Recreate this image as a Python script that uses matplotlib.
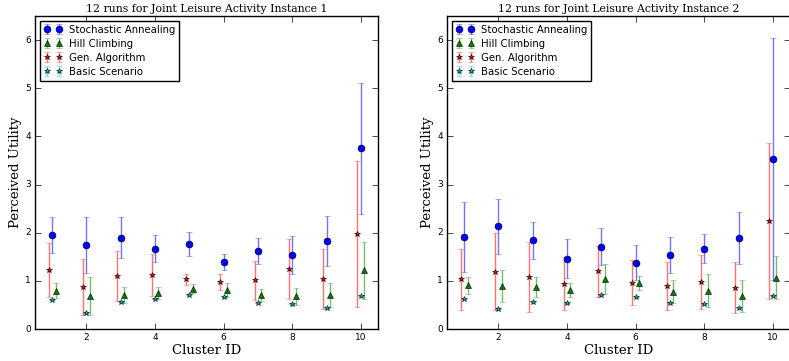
import matplotlib
matplotlib.use("Agg")
import matplotlib.pyplot as plt
import numpy as np

plt.style.use("classic")

clusters = np.arange(1, 11)

# Instance 1: means and error half-widths per algorithm
sa1 = [1.95, 1.74, 1.90, 1.67, 1.76, 1.40, 1.62, 1.535, 1.825, 3.755]
sa1_err = [0.38, 0.58, 0.43, 0.28, 0.25, 0.165, 0.28, 0.39, 0.52, 1.36]
hc1 = [0.795, 0.685, 0.71, 0.75, 0.84, 0.81, 0.705, 0.68, 0.71, 1.22]
hc1_err = [0.155, 0.40, 0.16, 0.13, 0.10, 0.15, 0.12, 0.18, 0.25, 0.59]
ga1 = [1.22, 0.88, 1.11, 1.12, 1.03, 0.975, 1.01, 1.245, 1.037, 1.97]
ga1_err = [0.56, 0.58, 0.52, 0.44, 0.12, 0.17, 0.40, 0.615, 0.62, 1.51]
bs1 = [0.61, 0.34, 0.56, 0.63, 0.71, 0.66, 0.55, 0.52, 0.43, 0.69]

# Instance 2
sa2 = [1.91, 2.13, 1.84, 1.46, 1.71, 1.38, 1.535, 1.67, 1.89, 3.53]
sa2_err = [0.73, 0.58, 0.39, 0.41, 0.39, 0.36, 0.38, 0.30, 0.53, 2.52]
hc2 = [0.91, 0.89, 0.88, 0.81, 1.04, 0.96, 0.775, 0.795, 0.69, 1.065]
hc2_err = [0.18, 0.33, 0.21, 0.145, 0.31, 0.14, 0.24, 0.34, 0.33, 0.45]
ga2 = [1.03, 1.19, 1.08, 0.94, 1.20, 0.96, 0.90, 0.975, 0.86, 2.235]
ga2_err = [0.64, 0.80, 0.72, 0.55, 0.53, 0.47, 0.50, 0.555, 0.525, 1.62]
bs2 = [0.615, 0.41, 0.56, 0.55, 0.71, 0.66, 0.55, 0.51, 0.43, 0.69]

instances = [
    ("12 runs for Joint Leisure Activity Instance 1", sa1, sa1_err, hc1, hc1_err, ga1, ga1_err, bs1),
    ("12 runs for Joint Leisure Activity Instance 2", sa2, sa2_err, hc2, hc2_err, ga2, ga2_err, bs2),
]

fig = plt.figure(figsize=(7.89, 3.61), dpi=100, facecolor="white")
lefts = [35 / 789, 447 / 789]
W, H = 343 / 789, 313 / 361
B = 32 / 361

for left, (title, sa, sa_e, hc, hc_e, ga, ga_e, bs) in zip(lefts, instances):
    ax = fig.add_axes([left, B, W, H])
    kw = dict(capsize=2, elinewidth=1.0, markeredgewidth=0.4, linestyle="none")
    for x, y, e, c, m, ms, lab in [
        (clusters, sa, sa_e, "b", "o", 5, "Stochastic Annealing"),
        (clusters + 0.1, hc, hc_e, "g", "^", 5, "Hill Climbing"),
        (clusters - 0.1, ga, ga_e, "r", "*", 4, "Gen. Algorithm"),
        (clusters, bs, np.zeros(len(bs)), "c", "*", 4, "Basic Scenario"),
    ]:
        eb = ax.errorbar(x, y, yerr=e, fmt=m, color=c, ecolor=c, ms=ms,
                         mfc=c, mec="k", label=lab, **kw)
        # lighter whiskers so the markers stand out
        for part in eb[1] + eb[2]:
            part.set_alpha(0.55)
    ax.set_xlim(0.5, 10.5)
    ax.set_ylim(0, 6.5)
    ax.set_xticks([2, 4, 6, 8, 10])
    ax.set_yticks(range(7))
    ax.tick_params(labelsize=6.5, pad=3)
    ax.set_title(title, family="DejaVu Serif", fontsize=7.8, pad=3)
    ax.set_xlabel("Cluster ID", family="DejaVu Serif", fontsize=9.5, labelpad=1)
    ax.set_ylabel("Perceived Utility", family="DejaVu Serif", fontsize=9.5, labelpad=2)
    ax.legend(loc="upper left", fontsize=7.3, numpoints=2, borderaxespad=0.45,
              borderpad=0.4, handletextpad=0.7, labelspacing=0.4,
              handlelength=1.8)

fig.savefig("out.png", dpi=100, facecolor="white")
